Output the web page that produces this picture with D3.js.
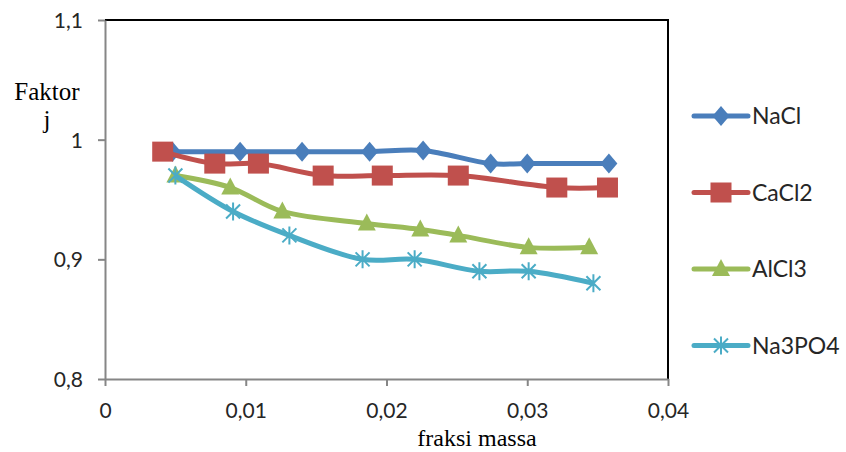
<!DOCTYPE html>
<html>
<head>
<meta charset="utf-8">
<script src="https://cdn.jsdelivr.net/npm/d3@7"></script>
<style>
  body { margin: 0; background: #fff; }
  svg { display: block; }
</style>
</head>
<body>
<div class="area"></div>
<script>
const width = 846
const height = 452
const plot = { left: 105, right: 668, top: 20, bottom: 379 }

const seriesNames = ["NaCl", "CaCl2", "AlCl3", "Na3PO4"]
const seriesColors = ["#4a7ebb", "#c0504d", "#9bbb59", "#4bacc6"]
const seriesShapes = ["diamond", "square", "triangle", "star"]

const naclX = [0.0048, 0.0096, 0.0140, 0.0188, 0.0226, 0.0274, 0.0300, 0.0358]
const naclY = [0.990, 0.990, 0.990, 0.990, 0.991, 0.980, 0.980, 0.980]
const cacl2X = [0.0041, 0.0078, 0.0109, 0.0155, 0.0197, 0.0251, 0.0321, 0.0357]
const cacl2Y = [0.990, 0.980, 0.980, 0.970, 0.970, 0.970, 0.960, 0.960]
const alcl3X = [0.0050, 0.0089, 0.0126, 0.0186, 0.0224, 0.0251, 0.0301, 0.0344]
const alcl3Y = [0.970, 0.960, 0.940, 0.930, 0.925, 0.920, 0.910, 0.910]
const na3po4X = [0.0050, 0.0091, 0.0131, 0.0183, 0.0220, 0.0266, 0.0301, 0.0347]
const na3po4Y = [0.970, 0.940, 0.920, 0.900, 0.900, 0.890, 0.890, 0.880]

const xTicks = [0, 0.01, 0.02, 0.03, 0.04]
const yTicks = [0.8, 0.9, 1.0, 1.1]

const seriesX = [naclX, cacl2X, alcl3X, na3po4X]
const seriesY = [naclY, cacl2Y, alcl3Y, na3po4Y]

const svg = d3.select(".area")
  .append("svg")
  .attr("width", width)
  .attr("height", height)

const x = d3.scaleLinear().domain([0, 0.04]).range([plot.left, plot.right])
const y = d3.scaleLinear().domain([0.8, 1.1]).range([plot.bottom, plot.top])

const fmt = d => d3.format(".2~f")(d).replace(".", ",")
const axisColor = "#868686"
const tickFont = "Lato, 'Open Sans', sans-serif"

// plot border (top + right in black)
svg.append("path")
  .attr("d", `M${plot.left},${plot.top}H${plot.right}V${plot.bottom}`)
  .attr("fill", "none")
  .attr("stroke", "#000")
  .attr("stroke-width", 2)

const xAxis = svg.append("g")
  .attr("transform", `translate(0, ${plot.bottom})`)
  .call(d3.axisBottom(x).tickValues(xTicks).tickSize(7).tickSizeOuter(0).tickPadding(17).tickFormat(fmt))

const yAxis = svg.append("g")
  .attr("transform", `translate(${plot.left}, 0)`)
  .call(d3.axisLeft(y).tickValues(yTicks).tickSize(7).tickSizeOuter(0).tickPadding(15).tickFormat(fmt))

for (const ax of [xAxis, yAxis]) {
  ax.select(".domain").attr("stroke", axisColor).attr("stroke-width", 2)
  ax.selectAll(".tick line").attr("stroke", axisColor).attr("stroke-width", 2)
  ax.selectAll(".tick text")
    .attr("fill", "#262626")
    .style("font-family", tickFont)
    .style("font-size", "21px")
}
yAxis.selectAll(".tick text").attr("dy", "0.36em")

// axis titles
svg.append("text")
  .attr("x", 477).attr("y", 446)
  .attr("text-anchor", "middle")
  .style("font-family", "'Liberation Serif', serif")
  .style("font-size", "24px")
  .text("fraksi massa")

const yTitle = svg.append("text")
  .attr("text-anchor", "middle")
  .style("font-family", "'Liberation Serif', serif")
  .style("font-size", "25px")
yTitle.append("tspan").attr("x", 47).attr("y", 100).text("Faktor")
yTitle.append("tspan").attr("x", 47).attr("y", 128).text("j")

const line = d3.line()
  .x(d => x(d[0]))
  .y(d => y(d[1]))
  .curve(d3.curveCatmullRom.alpha(0.5))

function drawMarker(g, shape, color) {
  if (shape === "diamond") {
    g.append("path").attr("d", "M0,-10L8.5,0L0,10L-8.5,0Z").attr("fill", color)
  } else if (shape === "square") {
    g.append("rect").attr("x", -10.5).attr("y", -10).attr("width", 21).attr("height", 20).attr("fill", color)
  } else if (shape === "triangle") {
    g.append("path").attr("d", "M0,-10L9,7L-9,7Z").attr("fill", color)
  } else {
    g.append("path")
      .attr("d", "M-7,-7L7,7M-7,7L7,-7M0,-9V9")
      .attr("stroke", color).attr("stroke-width", 2).attr("fill", "none")
  }
}

const lineLayer = svg.append("g")
seriesNames.forEach((name, i) => {
  const data = seriesX[i].map((v, k) => [v, seriesY[i][k]])
  const g = lineLayer.append("g")
  g.append("path")
    .datum(data)
    .attr("fill", "none")
    .attr("stroke", seriesColors[i])
    .attr("stroke-width", 5)
    .attr("stroke-linejoin", "round")
    .attr("d", line)
  g.selectAll("g.mk")
    .data(data)
    .enter()
    .append("g")
    .attr("class", "mk")
    .attr("transform", d => `translate(${x(d[0])}, ${y(d[1])})`)
    .each(function () { drawMarker(d3.select(this), seriesShapes[i], seriesColors[i]) })
})

// legend
const legend = svg.append("g")
seriesNames.forEach((name, i) => {
  const ly = 116 + i * 76.5
  const g = legend.append("g").attr("transform", `translate(0, ${ly})`)
  g.append("line")
    .attr("x1", 694).attr("x2", 748).attr("y1", 0).attr("y2", 0)
    .attr("stroke", seriesColors[i]).attr("stroke-width", 5).attr("stroke-linecap", "round")
  const m = g.append("g").attr("transform", "translate(721, 0)")
  drawMarker(m, seriesShapes[i], seriesColors[i])
  g.append("text")
    .attr("x", 752).attr("y", 0).attr("dy", "0.36em")
    .attr("fill", "#262626")
    .style("font-family", tickFont)
    .style("font-size", "23px")
    .text(name)
})
</script>
</body>
</html>
